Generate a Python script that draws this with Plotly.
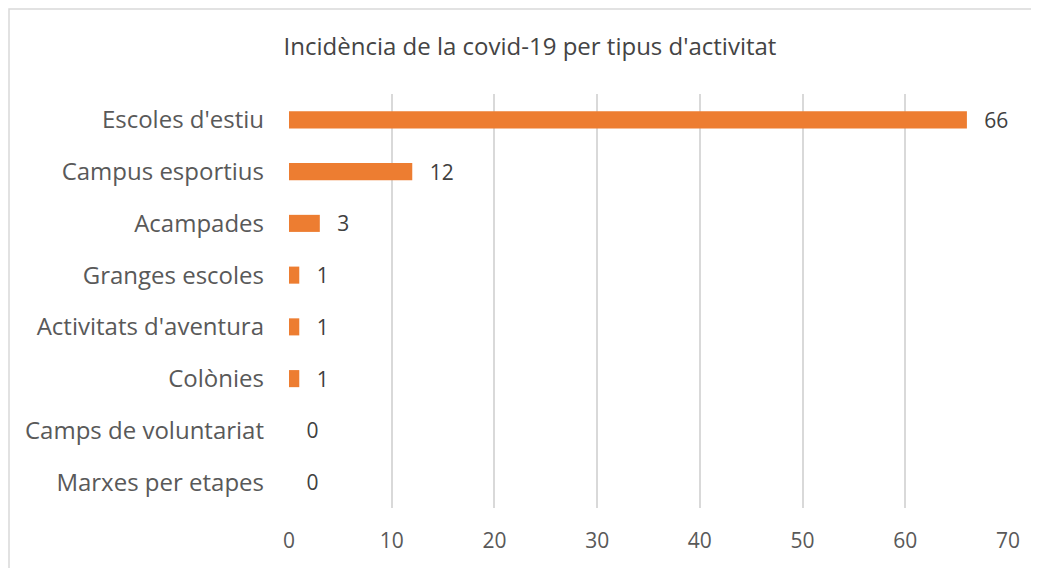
import plotly.graph_objects as go

categories = ["Escoles d'estiu", "Campus esportius", "Acampades", "Granges escoles",
              "Activitats d'aventura", "Colònies", "Camps de voluntariat", "Marxes per etapes"]
values = [66, 12, 3, 1, 1, 1, 0, 0]
tick_vals = [0, 10, 20, 30, 40, 50, 60, 70]

FONT = "Open Sans"
OFF = 8  # page body margin

fig = go.Figure(go.Bar(
    x=values, y=categories, orientation="h",
    marker=dict(color="#ED7D31", line=dict(width=0)),
    width=0.33,
    text=["\u00a0\u00a0\u2009" + str(v) for v in values], textposition="outside",
    constraintext="none",
    textfont=dict(family=FONT, size=21, color="#404040"),
    cliponaxis=False,
))

W, H = 1039, 568
l, t = 289 - OFF, 94 - OFF
r = W - (1008 - OFF)
b = H - (508 - OFF)
pw, ph = W - l - r, H - t - b

fig.update_layout(
    width=W, height=H,
    margin=dict(l=l, r=r, t=t, b=b, autoexpand=False),
    paper_bgcolor="white", plot_bgcolor="white",
    showlegend=False,
    title=dict(text="Incidència de la covid-19 per tipus d'activitat",
               x=(530 - OFF) / W, xanchor="center", y=1 - (47 - OFF) / H, yanchor="middle",
               font=dict(family=FONT, size=24, color="#444444")),
    xaxis=dict(range=[0, 70], tickvals=tick_vals, showgrid=True, gridcolor="#D9D9D9",
               gridwidth=1.5, zeroline=False, showline=False, ticks="",
               tickfont=dict(family=FONT, size=21, color="#595959"), ticklabelstandoff=18),
    yaxis=dict(categoryorder="array", categoryarray=categories[::-1], showgrid=False,
               zeroline=False, showline=False, ticks="",
               tickfont=dict(family=FONT, size=24, color="#595959"), ticklabelstandoff=24),
    shapes=[dict(type="rect", xref="paper", yref="paper",
                 x0=(1 - l) / pw, x1=(W + 20 - l) / pw,
                 y0=-(b + 20) / ph, y1=(ph + t - 1) / ph,
                 line=dict(color="#D9D9D9", width=1.5), fillcolor="rgba(0,0,0,0)", layer="below")],
)

fig.write_html("out.html")
